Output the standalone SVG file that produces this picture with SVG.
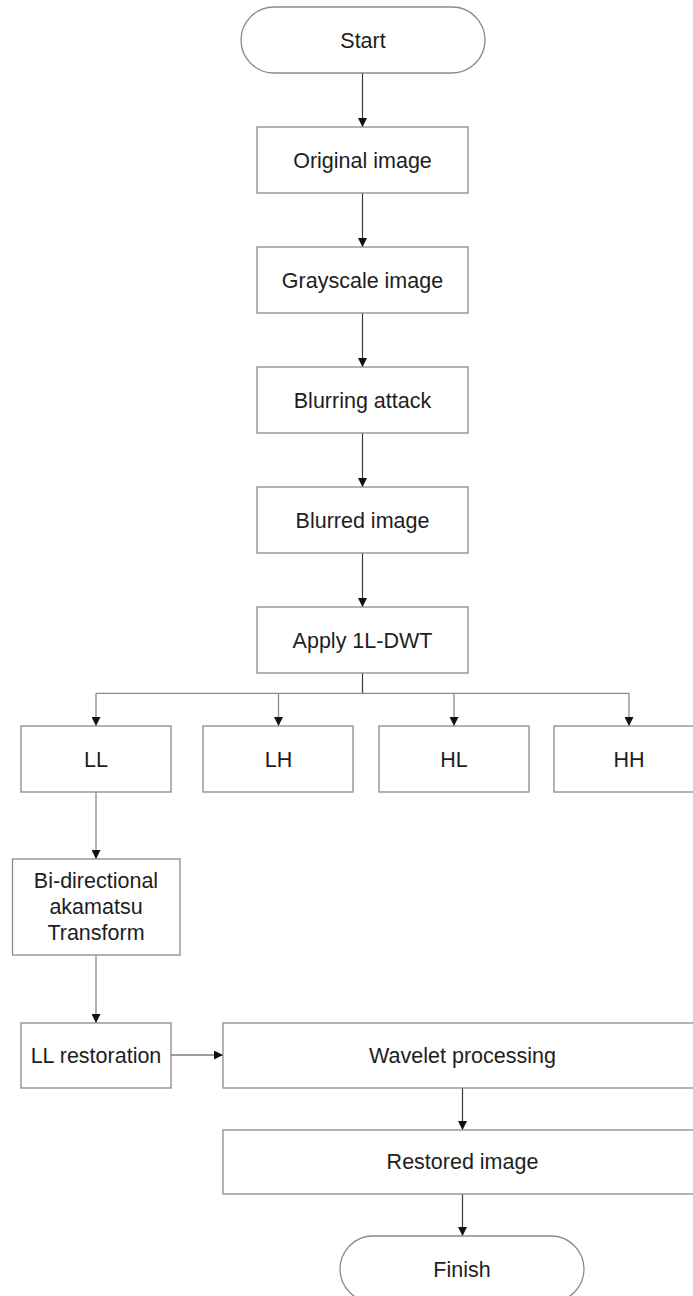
<svg xmlns="http://www.w3.org/2000/svg" width="693" height="1296" viewBox="0 0 693 1296">
<style>
.box{fill:#fff;stroke:#8a8a8a;stroke-width:1.3}
.lbl{font-family:"Liberation Sans",Arial,sans-serif;font-size:21.5px;fill:#1e1e1e;text-anchor:middle}
.con{fill:none;stroke:#3a3a3a;stroke-width:1.2}
.bus{fill:none;stroke:#8a8a8a;stroke-width:1.3}
</style>
<defs>
<marker id="ah" viewBox="0 0 10 10" refX="10" refY="5" markerWidth="9" markerHeight="9" markerUnits="userSpaceOnUse" orient="auto">
<path d="M0,0 L10,5 L0,10 Z" fill="#111"/>
</marker>
</defs>
<rect width="693" height="1296" fill="#fff"/>
<g id="connectors">
<line class="con" x1="362.5" y1="73" x2="362.5" y2="127" marker-end="url(#ah)"/>
<line class="con" x1="362.5" y1="193" x2="362.5" y2="247" marker-end="url(#ah)"/>
<line class="con" x1="362.5" y1="313" x2="362.5" y2="367" marker-end="url(#ah)"/>
<line class="con" x1="362.5" y1="433" x2="362.5" y2="487" marker-end="url(#ah)"/>
<line class="con" x1="362.5" y1="553" x2="362.5" y2="607" marker-end="url(#ah)"/>
<line class="con" x1="362.5" y1="673" x2="362.5" y2="693"/>
<polyline class="bus" points="96,693.3 629,693.3 629,726" marker-end="url(#ah)"/>
<line class="bus" x1="96" y1="693.3" x2="96" y2="726" marker-end="url(#ah)"/>
<line class="bus" x1="278.5" y1="693.3" x2="278.5" y2="726" marker-end="url(#ah)"/>
<line class="bus" x1="454" y1="693.3" x2="454" y2="726" marker-end="url(#ah)"/>
<line class="bus" x1="96" y1="792" x2="96" y2="859" marker-end="url(#ah)"/>
<line class="bus" x1="96" y1="955" x2="96" y2="1023" marker-end="url(#ah)"/>
<line class="con" x1="171" y1="1055" x2="223" y2="1055" marker-end="url(#ah)"/>
<line class="con" x1="462.5" y1="1088" x2="462.5" y2="1130" marker-end="url(#ah)"/>
<line class="con" x1="462.5" y1="1194" x2="462.5" y2="1236" marker-end="url(#ah)"/>
</g>
<g id="start"><rect class="box" x="241" y="7" width="244" height="66" rx="33" ry="33"/><text class="lbl" x="363" y="47.5">Start</text></g>
<g id="original"><rect class="box" x="257" y="127" width="211" height="66"/><text class="lbl" x="362.5" y="167.5">Original image</text></g>
<g id="grayscale"><rect class="box" x="257" y="247" width="211" height="66"/><text class="lbl" x="362.5" y="287.5">Grayscale image</text></g>
<g id="blurring"><rect class="box" x="257" y="367" width="211" height="66"/><text class="lbl" x="362.5" y="407.5">Blurring attack</text></g>
<g id="blurred"><rect class="box" x="257" y="487" width="211" height="66"/><text class="lbl" x="362.5" y="527.5">Blurred image</text></g>
<g id="dwt"><rect class="box" x="257" y="607" width="211" height="66"/><text class="lbl" x="362.5" y="647.5">Apply 1L-DWT</text></g>
<g id="ll"><rect class="box" x="21" y="726" width="150" height="66"/><text class="lbl" x="96" y="766.5">LL</text></g>
<g id="lh"><rect class="box" x="203" y="726" width="150" height="66"/><text class="lbl" x="278.5" y="766.5">LH</text></g>
<g id="hl"><rect class="box" x="379" y="726" width="150" height="66"/><text class="lbl" x="454" y="766.5">HL</text></g>
<g id="hh"><rect class="box" x="554" y="726" width="150" height="66"/><text class="lbl" x="629" y="766.5">HH</text></g>
<g id="bidir"><rect class="box" x="12.5" y="859" width="167.5" height="96"/><text class="lbl" x="96" y="888">Bi-directional</text><text class="lbl" x="96" y="914">akamatsu</text><text class="lbl" x="96" y="940">Transform</text></g>
<g id="llrest"><rect class="box" x="21" y="1023" width="150" height="65"/><text class="lbl" x="96" y="1062.5">LL restoration</text></g>
<g id="wavelet"><rect class="box" x="223" y="1023" width="479" height="65"/><text class="lbl" x="462.5" y="1062.5">Wavelet processing</text></g>
<g id="restored"><rect class="box" x="223" y="1130" width="479" height="64"/><text class="lbl" x="462.5" y="1169">Restored image</text></g>
<g id="finish"><rect class="box" x="340" y="1236" width="244" height="66" rx="33" ry="33"/><text class="lbl" x="462" y="1276.5">Finish</text></g>
</svg>
